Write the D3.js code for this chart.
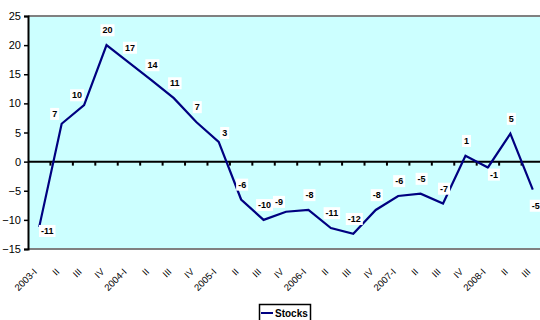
<!DOCTYPE html>
<html>
<head>
<meta charset="utf-8">
<script src="https://cdn.jsdelivr.net/npm/d3@7/dist/d3.min.js"></script>
<style>
  html, body { margin: 0; padding: 0; background: #ffffff; }
  svg { display: block; }
</style>
</head>
<body>
<div id="chart"></div>
<script>
// ---- data ----
const categories = ["2003-I","II","III","IV","2004-I","II","III","IV","2005-I","II","III","IV",
                    "2006-I","II","III","IV","2007-I","II","III","IV","2008-I","II","III"];
const stocks = [-11.2, 6.5, 9.7, 20.0, 17.0, 14.0, 10.9, 6.8, 3.4, -6.5, -10.0, -8.6,
                -8.3, -11.4, -12.4, -8.3, -5.9, -5.5, -7.2, 1.0, -1.0, 4.8, -4.8];
const yTicks = [-15, -10, -5, 0, 5, 10, 15, 20, 25];
const seriesName = "Stocks";
// data-label placement codes (a = above, al = above-left, ar = above-right, r = right, br = below-right, b = below)
const labelPlace = ["r","al","al","a","a","a","a","a","ar","a","a","al",
                    "a","a","a","a","a","a","a","a","br","a","b"];

// ---- layout ----
const W = 540, H = 320;
const plot = { left: 28, right: 544, top: 16, bottom: 249 };
const placeOffset = { a: [1, -15], al: [-7, -10], ar: [6, -9], r: [8, 4], br: [6, 7], b: [3, 16] };

const svg = d3.select("#chart").append("svg").attr("width", W).attr("height", H);

// categories repeat ("II", "III", ...) so the band scale is keyed by position
const idx = d3.range(categories.length);
const x = d3.scaleBand().domain(idx).range([plot.left, plot.right]).padding(0);
const y = d3.scaleLinear().domain([-15, 25]).range([plot.bottom, plot.top]);
const cx = i => x(i) + x.bandwidth() / 2;

// plot background
svg.append("rect")
  .attr("x", plot.left).attr("y", plot.top)
  .attr("width", plot.right - plot.left).attr("height", plot.bottom - plot.top)
  .attr("fill", "#CCFFFF");

// top and bottom grey borders
svg.append("line").attr("x1", plot.left).attr("x2", W).attr("y1", plot.top).attr("y2", plot.top)
  .attr("stroke", "#808080").attr("stroke-width", 2);
svg.append("line").attr("x1", plot.left).attr("x2", W).attr("y1", plot.bottom).attr("y2", plot.bottom)
  .attr("stroke", "#808080").attr("stroke-width", 2);

// y axis
const yAxis = d3.axisLeft(y).tickValues(yTicks).tickSize(4).tickPadding(3).tickFormat(d3.format("d"));
const gy = svg.append("g").attr("transform", `translate(${plot.left},0)`).call(yAxis);
gy.select(".domain").attr("stroke", "#000").attr("stroke-width", 2);
gy.selectAll(".tick line").attr("stroke", "#000").attr("stroke-width", 1.5);
gy.selectAll(".tick text").attr("font-family", "Arial, 'Liberation Sans', sans-serif")
  .attr("font-size", 11).attr("fill", "#000");

// zero line with category-boundary ticks
const y0 = y(0);
svg.append("line").attr("x1", plot.left).attr("x2", W).attr("y1", y0).attr("y2", y0)
  .attr("stroke", "#000").attr("stroke-width", 2);
const boundaries = idx.slice(1).map(i => x(i));
svg.append("g").selectAll("line").data(boundaries).join("line")
  .attr("x1", d => d).attr("x2", d => d)
  .attr("y1", y0).attr("y2", y0 + 4)
  .attr("stroke", "#000").attr("stroke-width", 2);

// x category labels (rotated)
svg.append("g").selectAll("text").data(idx).join("text")
  .attr("transform", i => `translate(${cx(i) - 4},${plot.bottom + 21}) rotate(-45)`)
  .attr("text-anchor", "end")
  .attr("dy", "0.35em")
  .attr("font-family", "Arial, 'Liberation Sans', sans-serif")
  .attr("font-size", 9.5)
  .attr("fill", "#000")
  .text(i => categories[i]);

// series line
const line = d3.line().x((d, i) => cx(i)).y(d => y(d));
svg.append("path").datum(stocks)
  .attr("d", line)
  .attr("fill", "none")
  .attr("stroke", "#000080")
  .attr("stroke-width", 2.2)
  .attr("stroke-linejoin", "miter");

// data labels
const lg = svg.append("g");
stocks.forEach((v, i) => {
  const off = placeOffset[labelPlace[i]];
  const px = cx(i) + off[0];
  const py = y(v) + off[1];
  const g = lg.append("g").attr("transform", `translate(${px},${py})`);
  const t = g.append("text")
    .attr("text-anchor", "middle")
    .attr("dy", "0.35em")
    .attr("font-family", "Arial, 'Liberation Sans', sans-serif")
    .attr("font-weight", "bold")
    .attr("font-size", 9)
    .attr("fill", "#000")
    .text(Math.round(v));
  const bb = t.node().getBBox();
  g.insert("rect", "text")
    .attr("x", bb.x - 2).attr("y", bb.y - 1)
    .attr("width", bb.width + 4).attr("height", bb.height + 2)
    .attr("fill", "#fff");
});

// legend
const leg = svg.append("g");
leg.append("rect").attr("x", 259.5).attr("y", 304.5).attr("width", 51).attr("height", 17)
  .attr("fill", "#fff").attr("stroke", "#000").attr("stroke-width", 1.5);
leg.append("line").attr("x1", 261).attr("x2", 273).attr("y1", 313).attr("y2", 313)
  .attr("stroke", "#000080").attr("stroke-width", 2);
leg.append("text").attr("x", 275).attr("y", 317)
  .attr("font-family", "Arial, 'Liberation Sans', sans-serif")
  .attr("font-weight", "bold").attr("font-size", 10).attr("fill", "#000")
  .text(seriesName);
</script>
</body>
</html>
